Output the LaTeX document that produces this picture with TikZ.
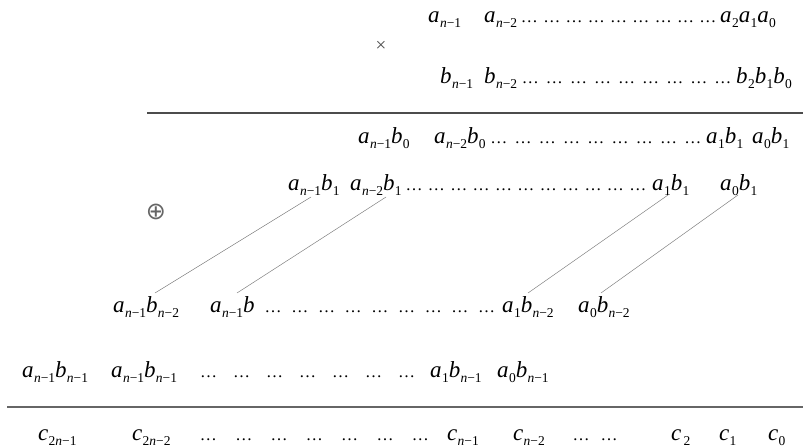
\documentclass[tikz,border=0pt]{standalone}
\usepackage{fontspec}
\setmainfont{Liberation Serif}
\newfontfamily\symfont{DejaVu Sans}
% an italic letter with a small lowered index
\newcommand\Lo[1]{\kern.3pt\raisebox{-5.5pt}{\fontsize{13.5}{14}\selectfont#1}}
\newcommand\T[2]{\textit{#1}\Lo{#2}}
\newcommand\Nm[1]{\textit{n}−#1}
% n ellipses spread evenly between two nodes
\newcommand\dotsbetween[5]{%
  \foreach \k in {1,...,#3}{%
    \path ([xshift=#4]#1.base east) -- ([xshift=-#5]#2.base west)
      node[dotrun,pos={(\k-0.5)/#3}] {…};}}
\begin{document}
\begin{tikzpicture}[x=1pt,y=-1pt,
  term/.style={anchor=base west,inner sep=0pt,font=\fontsize{23}{26}\selectfont},
  dotrun/.style={anchor=base,inner sep=0pt,font=\fontsize{17}{18}\selectfont},
  opsym/.style={anchor=center,inner sep=0pt,text=black!70},
  link/.style={draw=black!50,line width=0.5pt},
  rulebar/.style={draw=black!70,line width=1.3pt},
  rulebold/.style={draw=black!60,line width=2.4pt}]
\useasboundingbox (0,0) rectangle (803,447);

% operands
\node[term] (a1) at (428,22) {\T{a}{\Nm1}};
\node[term] (a2) at (484,22) {\T{a}{\Nm2}};
\node[term] (a0) at (720,22) {\T{a}{2}\T{a}{1}\T{a}{0}};
\dotsbetween{a2}{a0}{9}{1pt}{1pt}
\node[opsym,font=\fontsize{19}{20}\selectfont] (times) at (381,46) {×};
\node[term] (b1) at (440,83) {\T{b}{\Nm1}};
\node[term] (b2) at (484,83) {\T{b}{\Nm2}};
\node[term] (b0) at (736,83) {\T{b}{2}\T{b}{1}\T{b}{0}};
\dotsbetween{b2}{b0}{9}{1pt}{1pt}
\coordinate (r1l) at (147,113);
\coordinate (r1r) at (803,113);
\draw[rulebar] (r1l) -- (r1r);

% partial products, one row per digit of b
\node[term] (p00) at (358,143) {\T{a}{\Nm1}\T{b}{0}};
\node[term] (p01) at (434,143) {\T{a}{\Nm2}\T{b}{0}};
\node[term] (p02) at (706,143) {\T{a}{1}\T{b}{1}};
\node[term] (p03) at (752,143) {\T{a}{0}\T{b}{1}};
\dotsbetween{p01}{p02}{9}{1pt}{1pt}

\node[term] (p10) at (288,190) {\T{a}{\Nm1}\T{b}{1}};
\node[term] (p11) at (350,190) {\T{a}{\Nm2}\T{b}{1}};
\node[term] (p12) at (652,190) {\T{a}{1}\T{b}{1}};
\node[term] (p13) at (720,190) {\T{a}{0}\T{b}{1}};
\dotsbetween{p11}{p12}{11}{1pt}{3pt}

\node[opsym,font=\symfont\fontsize{24}{25}\selectfont,text=black!60] (oplus) at (156,212) {⊕};

\node[term] (p20) at (113,312) {\T{a}{\Nm1}\T{b}{\Nm2}};
\node[term] (p21) at (210,312) {\T{a}{\Nm1}\textit{b}};
\node[term] (p22) at (502,312) {\T{a}{1}\T{b}{\Nm2}};
\node[term] (p23) at (578,312) {\T{a}{0}\T{b}{\Nm2}};
\dotsbetween{p21}{p22}{9}{5pt}{2pt}

\node[term] (p30) at (22,377) {\T{a}{\Nm1}\T{b}{\Nm1}};
\node[term] (p31) at (111,377) {\T{a}{\Nm1}\T{b}{\Nm1}};
\node[term] (p32) at (430,377) {\T{a}{1}\T{b}{\Nm1}};
\node[term] (p33) at (497,377) {\T{a}{0}\T{b}{\Nm1}};
\dotsbetween{p31}{p32}{7}{15pt}{7pt}

% the rows in between are left out
\draw[link] ([shift={(23,7)}]p10.base west) -- ([shift={(42,-19)}]p20.base west);
\draw[link] ([shift={(36,7)}]p11.base west) -- ([shift={(27,-19)}]p21.base west);
\draw[link] ([shift={(16,5)}]p12.base west) -- ([shift={(26,-19)}]p22.base west);
\draw[link] ([shift={(18,5)}]p13.base west) -- ([shift={(23,-19)}]p23.base west);

\coordinate (r2l) at (7,407);
\coordinate (r2r) at (803,407);
\draw[rulebold] (r2l) -- (r2r);

% digits of the product
\node[term] (c0) at (38,440) {\T{c}{2\textit{n}−1}};
\node[term] (c1) at (132,440) {\T{c}{2\textit{n}−2}};
\node[term] (c2) at (447,440) {\T{c}{\Nm1}};
\node[term] (c3) at (513,440) {\T{c}{\Nm2}};
\node[term] (c4) at (671,440) {\textit{c}\kern2pt\Lo{2}};
\node[term] (c5) at (719,440) {\T{c}{1}};
\node[term] (c6) at (768,440) {\T{c}{0}};
\dotsbetween{c1}{c2}{7}{20pt}{9pt}
\dotsbetween{c3}{c4}{2}{22pt}{48pt}
\end{tikzpicture}
\end{document}
